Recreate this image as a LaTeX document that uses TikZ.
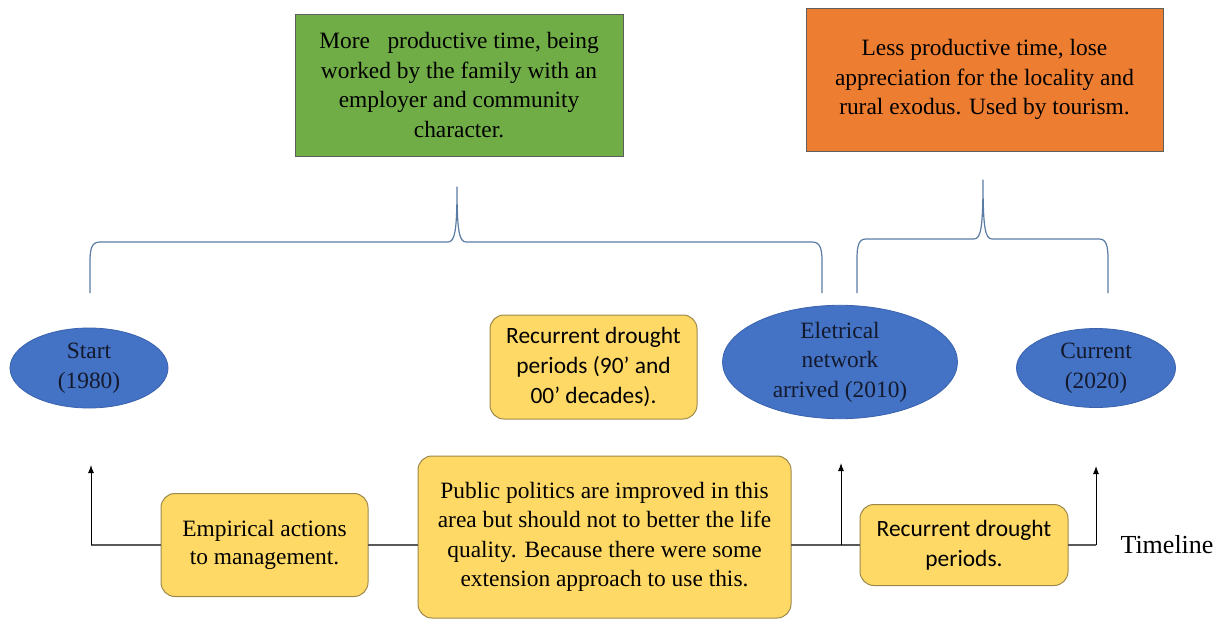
\documentclass[tikz,border=0pt]{standalone}
\usepackage{fontspec}
\setmainfont{Liberation Serif}
\newfontfamily\calibri{Carlito}
\usetikzlibrary{shapes.geometric,arrows.meta}
\definecolor{eraBlue}{HTML}{4472C4}
\definecolor{eraEdge}{HTML}{3A62AE}
\definecolor{eraText}{HTML}{141A2E}
\definecolor{noteYellow}{HTML}{FFD966}
\definecolor{noteEdge}{HTML}{9C884A}
\definecolor{goodGreen}{HTML}{70AD47}
\definecolor{badOrange}{HTML}{ED7D31}
\definecolor{boxEdge}{HTML}{5E5E5E}
\definecolor{braceBlue}{HTML}{5A7BA3}
\definecolor{axisGray}{HTML}{595959}
\begin{document}
\begin{tikzpicture}[x=1pt,y=-1pt,
  every node/.style={inner sep=0pt, outer sep=0pt, align=center,
    font=\fontsize{23.4}{29.5}\selectfont},
  era/.style={ellipse, fill=eraBlue, draw=eraEdge, line width=0.8pt, text=eraText},
  note/.style={rectangle, rounded corners=14pt, fill=noteYellow,
    draw=noteEdge, line width=1pt},
  sansnote/.style={note, font=\calibri\fontsize{23.4}{30}\selectfont},
  phase/.style={rectangle, draw=boxEdge, line width=0.9pt},
  axis/.style={draw=axisGray, line width=1.4pt},
  tick/.style={draw=black, line width=1pt, -{Latex[length=8pt,width=6pt]}},
  bracket/.style={draw=braceBlue, line width=1.2pt, line join=round}]
\useasboundingbox (0,0) rectangle (1229,621);

% phase descriptions
\node[phase, fill=goodGreen, minimum width=328pt, minimum height=142pt] (good) at (459,85)
  {More\ \ \ productive time, being\\worked by the family with an\\employer and community\\character.};
\node[phase, fill=badOrange, minimum width=357pt, minimum height=143pt] (bad) at (984.5,79.5)
  {Less productive time, lose\\appreciation for the locality and\\rural exodus. Used by tourism.};

% braces grouping the periods
\draw[bracket] (90,293) -- (90,262) .. controls (90,248) and (92,242) .. (100,242)
  -- (448,242) .. controls (455,242) and (457,230) .. (457,187)
  .. controls (457,230) and (459,242) .. (466,242)
  -- (812,242) .. controls (820,242) and (822,248) .. (822,262) -- (822,293);
\draw[bracket] (857,293) -- (857,259) .. controls (857,245) and (859,239) .. (866,239)
  -- (974,239) .. controls (981,239) and (983,227) .. (983,180)
  .. controls (983,227) and (985,239) .. (992,239)
  -- (1099,239) .. controls (1106,239) and (1108,245) .. (1108,259) -- (1108,293);

% milestones
\node[era, minimum width=158pt, minimum height=80pt] (start) at (89,368) {Start\\(1980)};
\node[era, minimum width=235pt, minimum height=98pt] (grid) at (840,362)
  {Eletrical\\network\\arrived (2010)};
\node[era, minimum width=159pt, minimum height=79pt] (now) at (1096,368) {Current\\(2020)};
\node[sansnote, minimum width=207pt, minimum height=104pt] (drought1) at (593.5,367)
  {Recurrent drought\\periods (90’ and\\00’ decades).};

% timeline
\coordinate (t0) at (91,545);
\coordinate (t1) at (841,545);
\coordinate (t2) at (1096,545);
\coordinate (a0) at (91,465);
\coordinate (a1) at (841,463);
\coordinate (a2) at (1096,466);

\node[note, minimum width=207pt, minimum height=103pt,
  font=\fontsize{23.4}{28}\selectfont] (empirical) at (264.5,545)
  {Empirical actions\\to management.};
\node[note, minimum width=373pt, minimum height=162pt] (public) at (604.5,537)
  {Public politics are improved in this\\area but should not to better the life\\quality. Because there were some\\extension approach to use this.};
\node[sansnote, minimum width=208pt, minimum height=81pt] (drought2) at (964,545)
  {Recurrent drought\\periods.};
\node[font=\fontsize{26}{30}\selectfont] (timeline) at (1167,545) {Timeline};

\draw[axis] (t0) -- (empirical.west);
\draw[axis] (empirical.east) -- (public.west |- t0);
\draw[axis] (public.east |- t0) -- (drought2.west);
\draw[axis] (drought2.east) -- (t2);
\draw[tick] (t0) -- (a0);
\draw[tick] (t1) -- (a1);
\draw[tick] (t2) -- (a2);
\end{tikzpicture}
\end{document}
